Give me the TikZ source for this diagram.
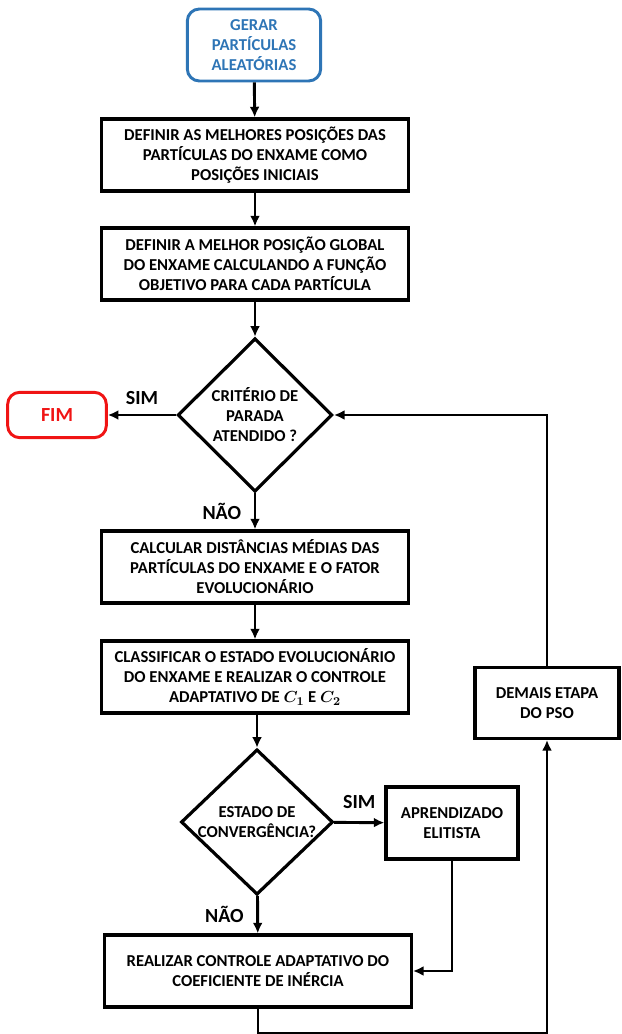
\documentclass[tikz,border=0pt]{standalone}
\usepackage{fontspec}
\setmainfont{Carlito}
\usepackage{amsmath}
\usepackage{tikz}
\usetikzlibrary{arrows.meta}
\usetikzlibrary{calc}
\usetikzlibrary{shapes.geometric, shapes.misc}
\definecolor{azul}{HTML}{2E75B6}
\definecolor{vermelho}{HTML}{F01414}
\tikzstyle{block} = [draw, line width=2.4pt, align=center,
	font=\bfseries\fontsize{12.5}{15}\selectfont,
	minimum width = 230pt,
	minimum height = 54pt]
\tikzstyle{decisao} = [draw, diamond, aspect=1, line width=2.4pt, align=center,
	font=\bfseries\fontsize{12.5}{15}\selectfont, inner sep=0pt]
\tikzstyle{terminal} = [draw, rounded corners=9pt, line width=2.2pt, align=center,
	font=\bfseries\fontsize{12.5}{15}\selectfont]
\tikzstyle{rotulo} = [font=\bfseries\fontsize{15}{18}\selectfont]
\tikzstyle{arrow} =[-{Latex[length=2.8mm, width=2.6mm]}, line width=2.2pt]

\begin{document}
\begin{tikzpicture}[x=0.75pt, y=-0.75pt]
	\useasboundingbox (0,0) rectangle (621,1034);
	\node (ger) [terminal, azul, text=azul, minimum width=100pt, minimum height=54pt] at (254,45) {GERAR\\PARTÍCULAS\\ALEATÓRIAS};
	
	\node (def1) [block] at (255,155) {DEFINIR AS MELHORES POSIÇÕES DAS\\PARTÍCULAS DO ENXAME COMO\\POSIÇÕES INICIAIS};
	\draw [arrow] (ger) -- (def1);
	
	\node (def2) [block] at (255,264) {DEFINIR A MELHOR POSIÇÃO GLOBAL\\DO ENXAME CALCULANDO A FUNÇÃO\\OBJETIVO PARA CADA PARTÍCULA};
	\draw [arrow] (def1) -- (def2);
	
	\node (crit) [decisao, minimum width=116pt, minimum height=115pt] at (255,415) {CRITÉRIO DE\\PARADA\\ATENDIDO ?};
	\draw [arrow] (def2) -- (crit);
	
	\node (fim) [terminal, vermelho, text=vermelho, font=\bfseries\fontsize{15}{18}\selectfont, minimum width=74pt, minimum height=34pt] at (57,415) {FIM};
	\draw [arrow] (crit) -- (fim) node [rotulo, midway, above=3pt] {SIM};
	
	\node (calc) [block] at (255,567) {CALCULAR DISTÂNCIAS MÉDIAS DAS\\PARTÍCULAS DO ENXAME E O FATOR\\EVOLUCIONÁRIO};
	\draw [arrow] (crit) -- (calc) node [rotulo, midway, left=6pt] {NÃO};
	
	\node (class) [block] at (255,677) {CLASSIFICAR O ESTADO EVOLUCIONÁRIO\\DO ENXAME E REALIZAR O CONTROLE\\ADAPTATIVO DE $\boldsymbol{C_1}$ E $\boldsymbol{C_2}$};
	\draw [arrow] (calc) -- (class);
	
	\node (conv) [decisao, inner sep=-3pt, minimum width=114pt, minimum height=109pt] at (257,822) {ESTADO DE\\CONVERGÊNCIA?};
	\draw [arrow] (class.south -| conv) -- (conv);
	
	\node (elit) [block, minimum width=99pt] at (452,823) {APRENDIZADO\\ELITISTA};
	\draw [arrow] (conv) -- (elit) node [rotulo, midway, above=6pt] {SIM};
	
	\node (real) [block] at (258,971) {REALIZAR CONTROLE ADAPTATIVO DO\\COEFICIENTE DE INÉRCIA};
	\draw [arrow] (conv) -- (real) node [rotulo, midway, left=6pt] {NÃO};
	\draw [arrow] (elit) |- (real);
	
	%laco de volta
	\node (demais) [block, minimum width=108pt, minimum height=53pt] at (547,703) {DEMAIS ETAPA\\DO PSO};
	\draw [arrow] (real.south) -- ++(0,25) -| (demais);
	\draw [arrow] (demais) |- (crit);
\end{tikzpicture}
\end{document}
